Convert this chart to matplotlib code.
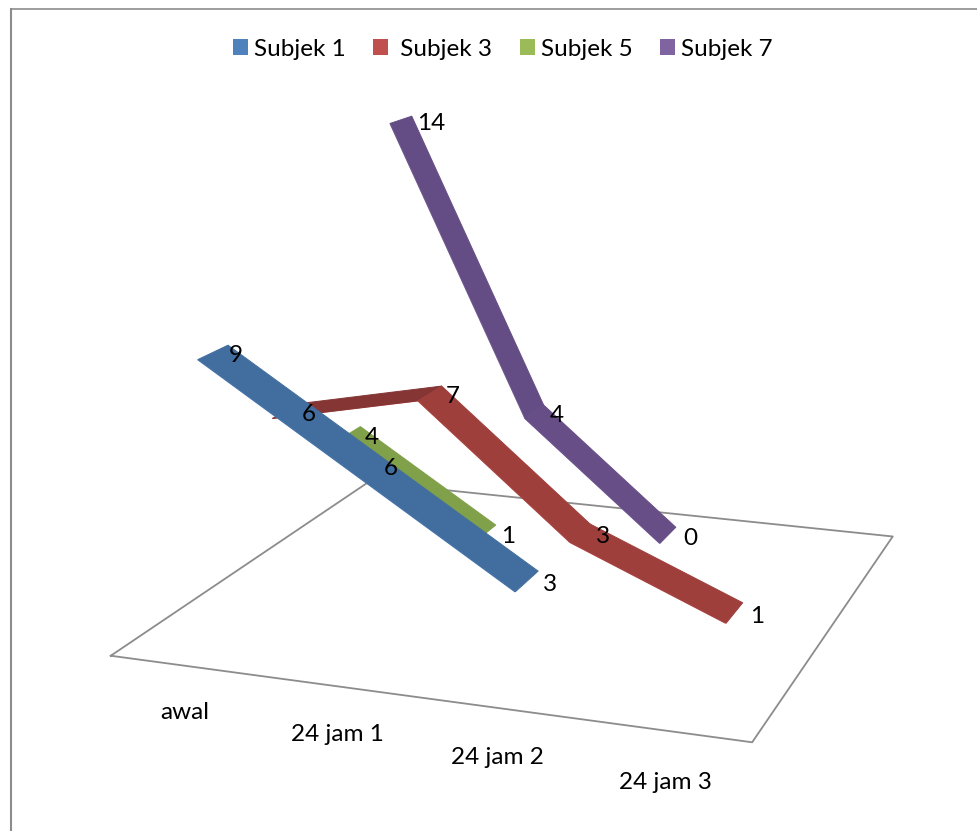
import matplotlib
matplotlib.use('Agg')
import matplotlib.pyplot as plt
import numpy as np
from matplotlib.lines import Line2D
from matplotlib.patches import Patch
from mpl_toolkits.mplot3d import proj3d
from mpl_toolkits.mplot3d.art3d import Poly3DCollection

categories = ['awal', '24 jam 1', '24 jam 2', '24 jam 3']
series_names = ['Subjek 1', ' Subjek 3', 'Subjek 5', 'Subjek 7']
subjek_1 = [9, 6, 3]
subjek_3 = [6, 7, 3, 1]
subjek_5 = [4, 1]
subjek_7 = [14, 4, 0]
all_series = [subjek_1, subjek_3, subjek_5, subjek_7]

legend_colors = ['#4f81bd', '#c0504d', '#9bbb59', '#8064a2']
top_colors = ['#426e9f', '#9e3f3c', '#80a04a', '#674e87']
under_colors = ['#3a628e', '#843534', '#6f8c40', '#644d84']
draw_order = [5, 4, 3, 2]

half_width = 0.2
edge_height = 0.04
font_size = 17.5

plt.rcParams['font.family'] = ['Lato', 'DejaVu Sans']

fig = plt.figure(figsize=(9.78, 8.31), dpi=100)

# view values come from fitting the floor corners and line points to the picture
scale, shift_x, shift_y = 5514.773, 486.92, 426.96
side = 0.185 * scale
left = shift_x - 0.095 * scale
bottom = 831 - (shift_y + 0.095 * scale)
ax = fig.add_axes([left / 978, bottom / 831, side / 978, side / 831], projection='3d')
ax.view_init(14.9303, -69.7674, 0.0677)
ax.set_proj_type('persp', focal_length=float(np.exp(-0.8241)))
ax.set_box_aspect((np.exp(0.1595), np.exp(0.1638), np.exp(-0.1823)))
ax.set_xlim3d(0.0617, 4.0617)
ax.set_ylim3d(-0.9795, 3.0205)
ax.set_zlim3d(-0.2478, 13.7522)
ax.set_axis_off()
ax.computed_zorder = False
ax.patch.set_alpha(0)
proj = ax.get_proj()

n_cat = len(categories)
n_ser = len(all_series)

# floor
ax.plot([0, n_cat, n_cat, 0, 0], [0, 0, n_ser, n_ser, 0], [0, 0, 0, 0, 0],
        color='#8c8c8c', lw=1.3, zorder=1)

for i, vals in enumerate(all_series):
    y = i + 0.5
    for j in range(len(vals) - 1):
        x0, x1 = j + 0.5, j + 1.5
        z0, z1 = vals[j], vals[j + 1]
        # segments going up are seen from below, so they look darker
        col = under_colors[i] if z1 > z0 or z0 - z1 > 5 else top_colors[i]
        edge = [(x0, y - half_width, z0), (x1, y - half_width, z1),
                (x1, y - half_width, z1 - edge_height), (x0, y - half_width, z0 - edge_height)]
        ax.add_collection3d(Poly3DCollection([edge], facecolor=legend_colors[i],
                                             edgecolor='none', zorder=draw_order[i]))
        top = [(x0, y - half_width, z0), (x1, y - half_width, z1),
               (x1, y + half_width, z1), (x0, y + half_width, z0)]
        ax.add_collection3d(Poly3DCollection([top], facecolor=col, edgecolor=col,
                                             linewidth=0.7, zorder=draw_order[i] + 0.5))

# value labels
for i, vals in enumerate(all_series):
    for j, v in enumerate(vals):
        px, py, _ = proj3d.proj_transform(j + 0.5, i + 0.5, v, proj)
        ax.annotate(str(v), (px, py), xytext=(16, -4), textcoords='offset pixels',
                    ha='left', va='center', fontsize=font_size, color='black', zorder=10)

# category labels in front of the floor
for j, name in enumerate(categories):
    px, py, _ = proj3d.proj_transform(j + 0.5, -0.55, 0, proj)
    ax.annotate(name, (px, py), xytext=(44 - 5 * j, -15), textcoords='offset pixels',
                ha='center', va='center', fontsize=font_size, color='black', zorder=10)

handles = [Patch(facecolor=c, edgecolor='none') for c in legend_colors]
fig.legend(handles, series_names, loc='center', bbox_to_anchor=(503 / 978, 1 - 49 / 831),
           ncol=4, frameon=False, fontsize=font_size, handlelength=0.62, handleheight=0.62,
           handletextpad=0.25, columnspacing=1.13)

# chart frame, only top and left show in the picture
fig.add_artist(Line2D([11 / 978, 11 / 978], [0, 1 - 8.5 / 831], color='#8c8c8c', lw=1.5))
fig.add_artist(Line2D([11 / 978, 1], [1 - 8.5 / 831, 1 - 8.5 / 831], color='#8c8c8c', lw=1.2))

fig.savefig('out.png', dpi=100)
